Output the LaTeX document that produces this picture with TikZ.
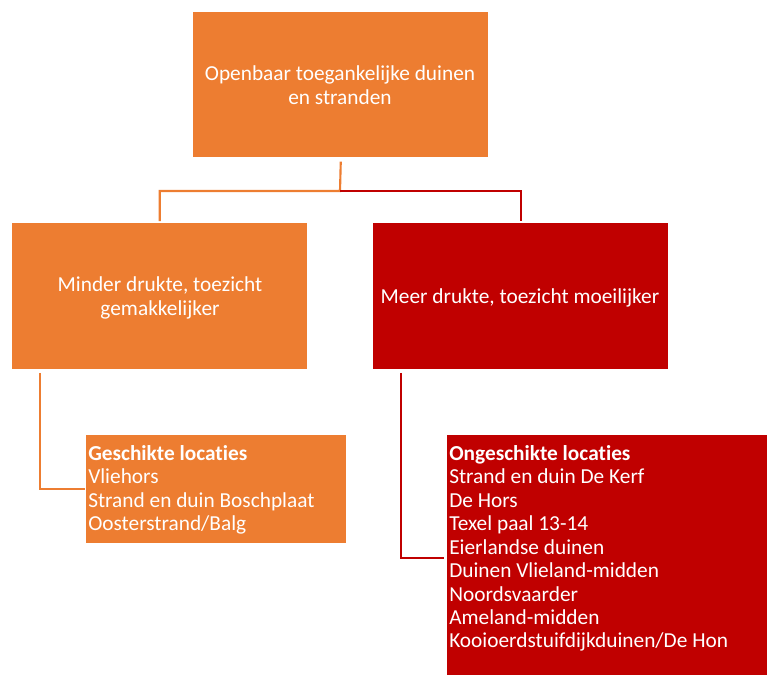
\documentclass[tikz,border=0pt]{standalone}
\usepackage{fontspec}
\setmainfont[Ligatures=NoCommon]{Carlito}
\definecolor{obox}{HTML}{ED7D31}
\definecolor{rbox}{HTML}{C00000}
\tikzset{
  box/.style={fill=#1, draw=none, anchor=north west, inner sep=0pt},
  ctext/.style={text=white, align=center, font=\fontsize{16}{18}\selectfont},
  ltext/.style={text=white, align=left, anchor=north west, inner sep=0pt, font=\fontsize{16}{17.6}\selectfont},
  oline/.style={draw=obox, line width=1.6pt},
  rline/.style={draw=rbox, line width=1.6pt}
}
\begin{document}
\begin{tikzpicture}[x=0.75pt,y=-0.75pt]
\useasboundingbox (0,0) rectangle (767,675);
% boxes
\node[box=obox, minimum width=295*0.75pt, minimum height=145*0.75pt] (top) at (193,12) {};
\node[ctext] (toptxt) at (340,85.5) {Openbaar toegankelijke duinen\\en stranden};
\node[box=obox, minimum width=295*0.75pt, minimum height=146*0.75pt] (left) at (12,223) {};
\node[ctext] (lefttxt) at (160,298) {Minder drukte, toezicht\\gemakkelijker};
\node[box=rbox, minimum width=295*0.75pt, minimum height=146*0.75pt] (right) at (373,223) {};
\node[ctext] (righttxt) at (520,298) {Meer drukte, toezicht moeilijker};
\node[box=obox, minimum width=260*0.75pt, minimum height=108*0.75pt] (gesch) at (86,435) {};
\node[ltext] (geschtxt) at (88,445) {\textbf{Geschikte locaties}\\Vliehors\\Strand en duin Boschplaat\\Oosterstrand/Balg};
\node[box=rbox, minimum width=320*0.75pt, minimum height=240*0.75pt] (onge) at (447,435) {};
\node[ltext] (ongetxt) at (449,445) {\textbf{Ongeschikte locaties}\\Strand en duin De Kerf\\De Hors\\Texel paal 13-14\\Eierlandse duinen\\Duinen Vlieland-midden\\Noordsvaarder\\Ameland-midden\\Kooioerdstuifdijkduinen/De Hon};
% connectors
\coordinate (j) at (340,191);
\draw[oline] ([yshift=-3pt]top.south) -- (j) -| ([yshift=1.5pt]left.north);
\draw[rline] (j) -| ([yshift=1.5pt]right.north);
\draw[oline] ([xshift=21pt,yshift=-2.5pt]left.south west) |- ([xshift=-1pt]gesch.west);
\draw[rline] ([xshift=21pt,yshift=-2.5pt]right.south west) |- ([xshift=-2pt,yshift=-2.25pt]onge.west);
\end{tikzpicture}
\end{document}
